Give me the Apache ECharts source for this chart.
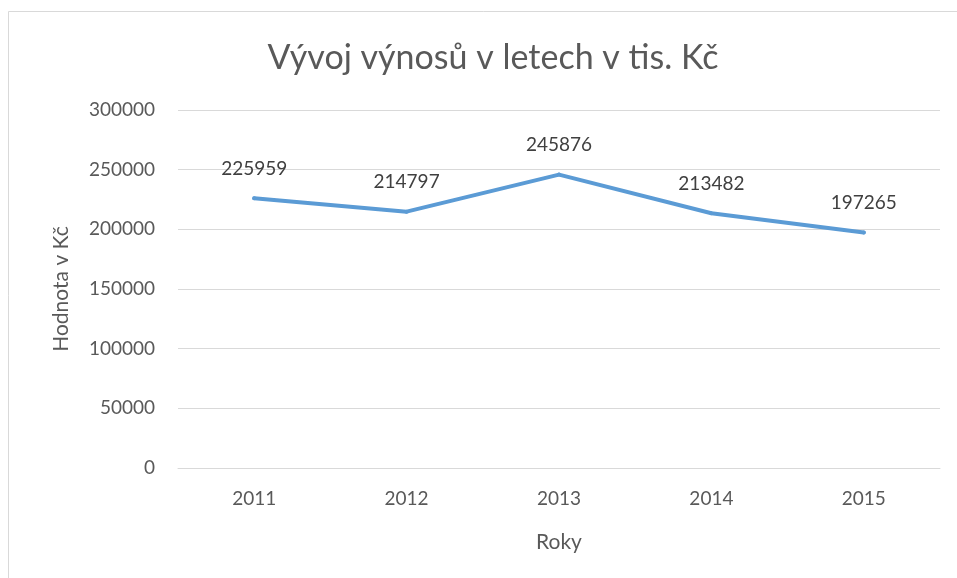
<!DOCTYPE html>
<html>
<head>
<meta charset="utf-8">
<script src="https://cdn.jsdelivr.net/npm/echarts@6/dist/echarts.min.js"></script>
<style>
  html, body { margin: 0; padding: 0; background: #fff; }
  #main { width: 957px; height: 578px; }
</style>
</head>
<body>
<div id="main"></div>
<script>
const years = ['2011', '2012', '2013', '2014', '2015'];
const revenue = [225959, 214797, 245876, 213482, 197265];
const yTicks = [0, 50000, 100000, 150000, 200000, 250000, 300000];

const textColor = '#595959';
const fontFamily = 'Lato, "Open Sans", sans-serif';

const chart = echarts.init(document.getElementById('main'), null, { renderer: 'canvas' });

const option = {
  backgroundColor: '#ffffff',
  animation: false,
  textStyle: { fontFamily: fontFamily },
  graphic: [{
    type: 'rect',
    shape: { x: 8.5, y: 11.5, width: 1000, height: 700 },
    style: { fill: 'none', stroke: '#d9d9d9', lineWidth: 1 },
    silent: true
  }],
  title: {
    text: 'Vývoj výnosů v letech v tis. Kč',
    left: 488,
    top: 36,
    textAlign: 'center',
    textStyle: { color: textColor, fontSize: 34, fontWeight: 'normal', fontFamily: fontFamily }
  },
  grid: { left: 178, right: 17, top: 110, bottom: 110 },
  xAxis: {
    type: 'category',
    data: years,
    name: 'Roky',
    nameLocation: 'middle',
    nameGap: 64,
    nameTextStyle: { color: textColor, fontSize: 21, fontFamily: fontFamily },
    axisLine: { show: true, lineStyle: { color: '#d9d9d9' } },
    axisTick: { show: false },
    axisLabel: { color: textColor, fontSize: 19, margin: 21, fontFamily: fontFamily }
  },
  yAxis: {
    type: 'value',
    min: yTicks[0],
    max: yTicks[yTicks.length - 1],
    interval: yTicks[1] - yTicks[0],
    name: 'Hodnota v Kč',
    nameLocation: 'middle',
    nameGap: 106,
    nameTextStyle: { color: textColor, fontSize: 21, fontFamily: fontFamily },
    axisLine: { show: false },
    axisTick: { show: false },
    axisLabel: {
      color: textColor, fontSize: 19, margin: 23, fontFamily: fontFamily,
      formatter: function (v) { return String(v); }
    },
    splitLine: { lineStyle: { color: '#d9d9d9', width: 1 } }
  },
  series: [{
    type: 'line',
    data: revenue,
    symbol: 'circle',
    symbolSize: 4,
    showSymbol: true,
    lineStyle: { color: '#5b9bd5', width: 4, cap: 'round', join: 'round' },
    itemStyle: { color: '#5b9bd5' },
    label: {
      show: true,
      position: 'top',
      distance: 18,
      color: '#404040',
      fontSize: 19,
      fontFamily: fontFamily,
      formatter: function (p) { return String(p.value); }
    }
  }]
};

chart.setOption(option);
</script>
</body>
</html>
